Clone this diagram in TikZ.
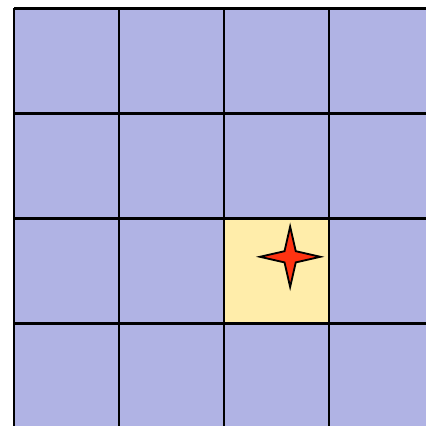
\documentclass[tikz,border=0pt]{standalone}
\usepackage{xcolor}
\usetikzlibrary{shapes.geometric}
\definecolor{cBlue}{HTML}{B0B3E4}
\definecolor{cYellow}{HTML}{FFEDAA}
\definecolor{cRed}{HTML}{FF3311}

\begin{document}
\begin{tikzpicture}[
  cell/.style={fill=cBlue},
  goal/.style={fill=cYellow},
  gridline/.style={draw=black, line width=1.6pt},
  spark/.style={star, star points=4, star point ratio=3.8, minimum size=1.15cm, inner sep=0pt, fill=cRed, draw=black, line width=1pt, line join=miter},
]

\useasboundingbox (-0.267,0.048) rectangle (7.848,8.162);

\fill[cell] (0,0) rectangle (8,8);
\fill[goal] (4,2) rectangle (6,4);
\draw[gridline] (0,0) grid[step=2] (8,8);

\node[spark] (target) at (5.26,3.27) {};

\end{tikzpicture}
\end{document}
